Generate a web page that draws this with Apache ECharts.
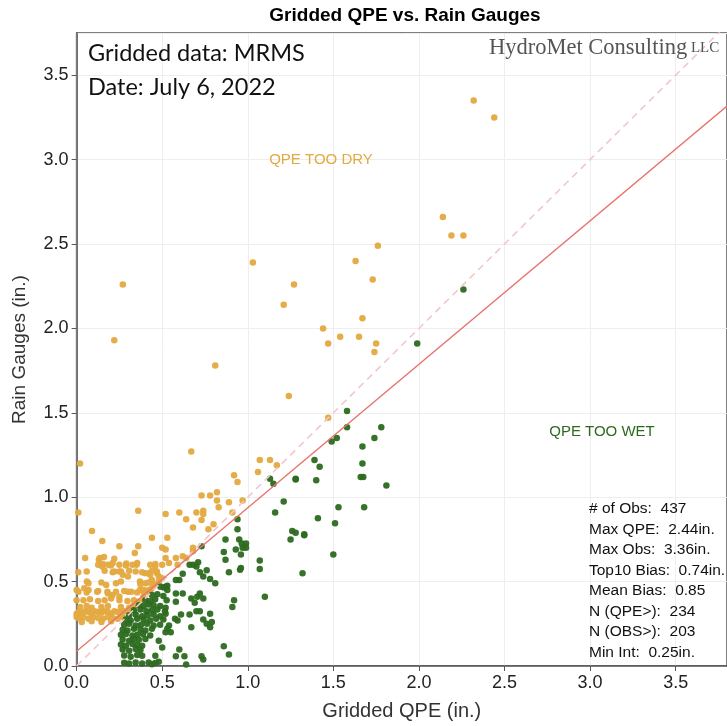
<!DOCTYPE html>
<html>
<head>
<meta charset="utf-8">
<script src="https://cdn.jsdelivr.net/npm/echarts@6/dist/echarts.min.js"></script>
<style>
    html, body { margin: 0; padding: 0; background: #fff; }
    #chart { width: 727px; height: 726px; }
</style>
</head>
<body>
<div id="chart"></div>
<script>
    // points above the 1:1 line (gauge > QPE) -> "QPE too dry"
    const dryPoints = [
        [2.32, 3.35], [2.44, 3.25], [2.14, 2.66], [2.19, 2.55], [2.26, 2.55], [1.76, 2.49],
        [1.03, 2.39], [1.63, 2.40], [1.73, 2.29], [1.27, 2.26], [0.27, 2.26], [0.22, 1.93],
        [1.21, 2.14], [1.67, 2.06], [1.44, 2.00], [1.54, 1.95], [1.65, 1.95], [1.47, 1.91],
        [1.75, 1.91], [1.74, 1.86], [0.81, 1.78], [1.24, 1.60], [1.47, 1.47],
        [0.02, 1.20], [0.67, 1.27], [1.07, 1.22], [1.13, 1.22], [1.17, 1.19], [1.06, 1.15],
        [0.92, 1.13], [0.94, 1.09], [0.73, 1.01], [0.78, 1.01], [0.82, 1.03], [0.82, 0.98],
        [0.89, 0.97], [0.97, 0.98], [0.83, 0.94], [0.91, 0.91], [0.01, 0.91], [0.36, 0.92],
        [0.52, 0.90], [0.60, 0.91], [0.64, 0.87], [0.70, 0.91], [0.74, 0.92], [0.74, 0.90],
        [0.73, 0.865], [0.80, 0.84], [0.77, 0.81], [0.68, 0.82], [0.09, 0.80], [0.15, 0.74],
        [0.25, 0.71], [0.36, 0.71], [0.44, 0.76], [0.53, 0.76], [0.50, 0.70], [0.52, 0.69],
        [0.34, 0.67], [0.68, 0.70], [0.52, 0.64], [0.58, 0.64], [0.64, 0.64], [0.62, 0.65],
        [0.68, 0.68], [0.50, 0.60], [0.54, 0.61], [0.59, 0.60], [0.05, 0.64], [0.13, 0.63],
        [0.20, 0.595], [0.15, 0.59], [0.29, 0.607], [0.35, 0.60], [0.46, 0.605], [0.22, 0.56],
        [0.25, 0.56], [0.27, 0.54], [0.30, 0.53], [0.40, 0.55], [0.42, 0.55], [0.43, 0.54],
        [0.47, 0.55], [0.48, 0.53], [0.06, 0.50], [0.37, 0.50], [0.44, 0.51], [0.01, 0.555],
        [0.045, 0.46], [0.07, 0.45], [0.12, 0.44], [0.18, 0.44], [0.21, 0.42], [0.25, 0.41],
        [0.30, 0.44], [0.32, 0.44], [0.37, 0.45], [0.39, 0.45], [0.40, 0.44], [0.42, 0.45],
        [0.135, 0.64], [0.16, 0.645], [0.22, 0.635],
        [0.126, 0.60], [0.154, 0.605], [0.183, 0.60], [0.211, 0.61], [0.25, 0.60], [0.288, 0.595],
        [0.326, 0.60], [0.354, 0.61], [0.43, 0.60], [0.459, 0.59],
        [0.059, 0.56], [0.164, 0.565], [0.211, 0.555], [0.259, 0.56], [0.307, 0.565], [0.345, 0.56],
        [0.383, 0.555], [0.44, 0.565], [0.469, 0.56],
        [0.069, 0.49], [0.145, 0.495], [0.173, 0.48], [0.23, 0.49], [0.259, 0.50], [0.373, 0.485],
        [0.402, 0.49], [0.421, 0.495], [0.45, 0.48], [0.478, 0.49],
        [0.011, 0.44], [0.059, 0.435], [0.126, 0.445], [0.183, 0.43], [0.23, 0.44], [0.278, 0.445],
        [0.354, 0.435], [0.392, 0.44], [0.43, 0.445],
        [0.04, 0.39], [0.078, 0.395], [0.126, 0.385], [0.164, 0.39], [0.202, 0.40], [0.25, 0.39],
        [0.297, 0.385], [0.335, 0.39], [0.37, 0.38],
        [0.021, 0.35], [0.059, 0.355], [0.088, 0.345], [0.145, 0.35], [0.183, 0.355], [0.259, 0.35],
        [0.307, 0.345], [0.33, 0.355],
        [0.011, 0.32], [0.03, 0.315], [0.05, 0.325], [0.069, 0.32], [0.088, 0.31], [0.107, 0.325],
        [0.126, 0.32], [0.145, 0.315], [0.164, 0.325], [0.183, 0.32], [0.202, 0.31], [0.221, 0.325],
        [0.24, 0.32], [0.259, 0.315], [0.278, 0.325],
        [0.011, 0.285], [0.04, 0.29], [0.069, 0.28], [0.097, 0.29], [0.126, 0.285], [0.154, 0.28],
        [0.183, 0.29], [0.211, 0.285], [0.24, 0.28], [0.269, 0.29],
        [0.03, 0.26], [0.088, 0.265], [0.145, 0.26], [0.202, 0.265],
        [0.0, 0.31], [0.0, 0.29], [0.0, 0.39], [0.0, 0.45],
        [0.26, 0.30], [0.30, 0.33], [0.33, 0.35], [0.36, 0.38], [0.39, 0.41], [0.42, 0.44],
        [0.44, 0.46], [0.46, 0.48], [0.48, 0.50], [0.50, 0.52]
    ];

    // points below the 1:1 line (QPE > gauge) -> "QPE too wet"
    const wetPoints = [
        [2.26, 2.23], [1.99, 1.91], [1.58, 1.51], [1.58, 1.415], [1.78, 1.415], [1.52, 1.35],
        [1.49, 1.33], [1.74, 1.35], [1.67, 1.30], [1.39, 1.22], [1.42, 1.18], [1.67, 1.20],
        [1.28, 1.105], [1.40, 1.10], [1.66, 1.12], [1.675, 1.12], [1.81, 1.07], [1.53, 0.94],
        [1.68, 0.94], [1.41, 0.875], [1.51, 0.845], [1.28, 0.79], [1.33, 0.78], [1.50, 0.66],
        [1.32, 0.55],
        [1.13, 1.11], [1.15, 1.08], [1.28, 1.11], [1.21, 0.975], [1.16, 0.91], [1.26, 0.80],
        [1.25, 0.75], [1.33, 0.775], [0.94, 0.87], [0.94, 0.81], [0.87, 0.75], [0.95, 0.75],
        [0.965, 0.725], [0.99, 0.725], [0.93, 0.69], [0.97, 0.70], [0.99, 0.70], [0.86, 0.675],
        [0.96, 0.66], [0.73, 0.71], [0.87, 0.63], [0.955, 0.57], [0.96, 0.58], [0.89, 0.555],
        [1.07, 0.625], [1.07, 0.575], [1.10, 0.41],
        [0.66, 0.60], [0.68, 0.60], [0.71, 0.615], [0.70, 0.59], [0.72, 0.555], [0.76, 0.567],
        [0.74, 0.53], [0.62, 0.547], [0.78, 0.516], [0.81, 0.49], [0.58, 0.51], [0.60, 0.51],
        [0.52, 0.47], [0.53, 0.45], [0.58, 0.43], [0.62, 0.43], [0.58, 0.38], [0.67, 0.40],
        [0.69, 0.375], [0.72, 0.43], [0.705, 0.41], [0.74, 0.40], [0.52, 0.345], [0.52, 0.31],
        [0.61, 0.305], [0.66, 0.305], [0.70, 0.325], [0.72, 0.325], [0.78, 0.31], [0.575, 0.28],
        [0.59, 0.27], [0.74, 0.275], [0.76, 0.25], [0.79, 0.26], [0.78, 0.23], [0.67, 0.23],
        [0.52, 0.20], [0.92, 0.39], [0.91, 0.35], [0.86, 0.117], [0.89, 0.068], [0.60, 0.098],
        [0.58, 0.058], [0.63, 0.058], [0.73, 0.058], [0.74, 0.038], [0.64, 0.009],
        [0.49, 0.47], [0.51, 0.465], [0.53, 0.475],
        [0.44, 0.42], [0.472, 0.425], [0.507, 0.415],
        [0.402, 0.39], [0.43, 0.385], [0.459, 0.395], [0.526, 0.39],
        [0.364, 0.36], [0.392, 0.355], [0.421, 0.365], [0.45, 0.36], [0.488, 0.355],
        [0.335, 0.33], [0.373, 0.335], [0.408, 0.325], [0.44, 0.33], [0.472, 0.335], [0.516, 0.325],
        [0.307, 0.30], [0.345, 0.305], [0.383, 0.295], [0.415, 0.30], [0.45, 0.305], [0.488, 0.295],
        [0.288, 0.275], [0.316, 0.27], [0.354, 0.28], [0.392, 0.275], [0.43, 0.27], [0.465, 0.28], [0.507, 0.275],
        [0.278, 0.245], [0.307, 0.25], [0.345, 0.24], [0.377, 0.245], [0.411, 0.25], [0.45, 0.24], [0.488, 0.245],
        [0.269, 0.215], [0.297, 0.21], [0.335, 0.22], [0.373, 0.215], [0.402, 0.21], [0.44, 0.22],
        [0.259, 0.185], [0.288, 0.19], [0.326, 0.18], [0.354, 0.185], [0.388, 0.19], [0.43, 0.18],
        [0.269, 0.157], [0.307, 0.15], [0.335, 0.16], [0.364, 0.155], [0.402, 0.16],
        [0.259, 0.127], [0.288, 0.12], [0.326, 0.13], [0.354, 0.125], [0.383, 0.12],
        [0.269, 0.098], [0.307, 0.09], [0.345, 0.10], [0.373, 0.095],
        [0.278, 0.062], [0.316, 0.055], [0.354, 0.065], [0.383, 0.06],
        [0.278, 0.019], [0.307, 0.015], [0.345, 0.02], [0.383, 0.015], [0.421, 0.02], [0.459, 0.018],
        [0.48, 0.025], [0.44, 0.01], [0.53, 0.22], [0.55, 0.20], [0.54, 0.24], [0.50, 0.11],
        [0.48, 0.15], [0.46, 0.06]
    ];

    const fitIntercept = 0.087;
    const fitSlope = 0.85;
    const axisTicks = [0, 0.5, 1.0, 1.5, 2.0, 2.5, 3.0, 3.5];
    const xMax = 3.8;
    const yMax = 3.75;

    const statsLines = [
        '# of Obs:  437',
        'Max QPE:  2.44in.',
        'Max Obs:  3.36in.',
        'Top10 Bias:  0.74in.',
        'Mean Bias:  0.85',
        'N (QPE>):  234',
        'N (OBS>):  203',
        'Min Int:  0.25in.'
    ];

    const DRY = '#E4A940';
    const WET = '#2C6A1F';
    const FONT = '"Liberation Sans", Arial, sans-serif';

    const chart = echarts.init(document.getElementById('chart'));

    const axisCommon = {
        type: 'value',
        min: 0,
        interval: 0.5,
        axisLine: { show: true, lineStyle: { color: '#555', width: 1.5 } },
        axisTick: { show: true, length: 5, lineStyle: { color: '#555' } },
        splitLine: { show: true, lineStyle: { color: '#eeeeee', width: 1 } },
        axisLabel: {
            color: '#222', fontSize: 18, fontFamily: FONT, showMaxLabel: false,
            formatter: v => axisTicks.includes(v) ? v.toFixed(1) : ''
        },
        nameTextStyle: { color: '#333', fontSize: 19, fontFamily: FONT },
        nameLocation: 'middle'
    };

    const statsGraphics = statsLines.map((s, i) => ({
        type: 'text',
        left: 589,
        top: 501 + i * 20.5,
        z: 100,
        style: { text: s, fill: '#111', font: '15.5px ' + FONT }
    }));

    const option = {
        animation: false,
        grid: {
            left: 76.6, top: 33, right: -15, bottom: 59.5,
            show: true, borderColor: '#555', borderWidth: 1.5, backgroundColor: '#fff'
        },
        xAxis: Object.assign({}, axisCommon, {
            max: xMax, name: 'Gridded QPE (in.)', nameGap: 35,
            nameTextStyle: { color: '#333', fontSize: 20, fontFamily: FONT }
        }),
        yAxis: Object.assign({}, axisCommon, {
            max: yMax, name: 'Rain Gauges (in.)', nameGap: 47
        }),
        graphic: [
            {
                type: 'text', x: 405, y: 16, z: 100,
                style: { text: 'Gridded QPE vs. Rain Gauges', fill: '#000', align: 'center', verticalAlign: 'middle',
                    font: 'bold 19px ' + FONT }
            },
            {
                type: 'text', x: 88, y: 53, z: 100,
                style: { text: 'Gridded data: MRMS', fill: '#111', verticalAlign: 'middle', font: '23.5px Lato, "Open Sans", sans-serif' }
            },
            {
                type: 'text', x: 88, y: 87, z: 100,
                style: { text: 'Date: July 6, 2022', fill: '#111', verticalAlign: 'middle', font: '23.5px Lato, "Open Sans", sans-serif' }
            },
            {
                type: 'text', x: 489, y: 48, z: 100,
                style: {
                    text: '{a|HydroMet Consulting}{b| LLC}', verticalAlign: 'middle',
                    rich: {
                        a: { fill: '#555', fontSize: 22.5, fontFamily: '"Liberation Serif", serif' },
                        b: { fill: '#555', fontSize: 15, fontFamily: '"Liberation Serif", serif' }
                    }
                }
            },
            {
                type: 'text', x: 321, y: 160, z: 100,
                style: { text: 'QPE TOO DRY', fill: DRY, align: 'center', verticalAlign: 'middle', font: '15px ' + FONT }
            },
            {
                type: 'text', x: 602, y: 432, z: 100,
                style: { text: 'QPE TOO WET', fill: WET, align: 'center', verticalAlign: 'middle', font: '15px ' + FONT }
            }
        ].concat(statsGraphics),
        series: [
            {
                type: 'scatter', data: dryPoints, symbolSize: 6.5,
                itemStyle: { color: DRY, opacity: 0.95 }, z: 2
            },
            {
                type: 'scatter', data: wetPoints, symbolSize: 6.5,
                itemStyle: { color: WET, opacity: 0.95 }, z: 2
            },
            {
                type: 'line', data: [[0, 0], [xMax, xMax]], symbol: 'none', z: 3,
                lineStyle: { color: '#F2C6CE', width: 1.6, type: [7, 5] }
            },
            {
                type: 'line', data: [[0, fitIntercept], [xMax, fitIntercept + fitSlope * xMax]], symbol: 'none', z: 4,
                lineStyle: { color: '#E8736C', width: 1.3 }
            }
        ]
    };

    chart.setOption(option);
</script>
</body>
</html>
